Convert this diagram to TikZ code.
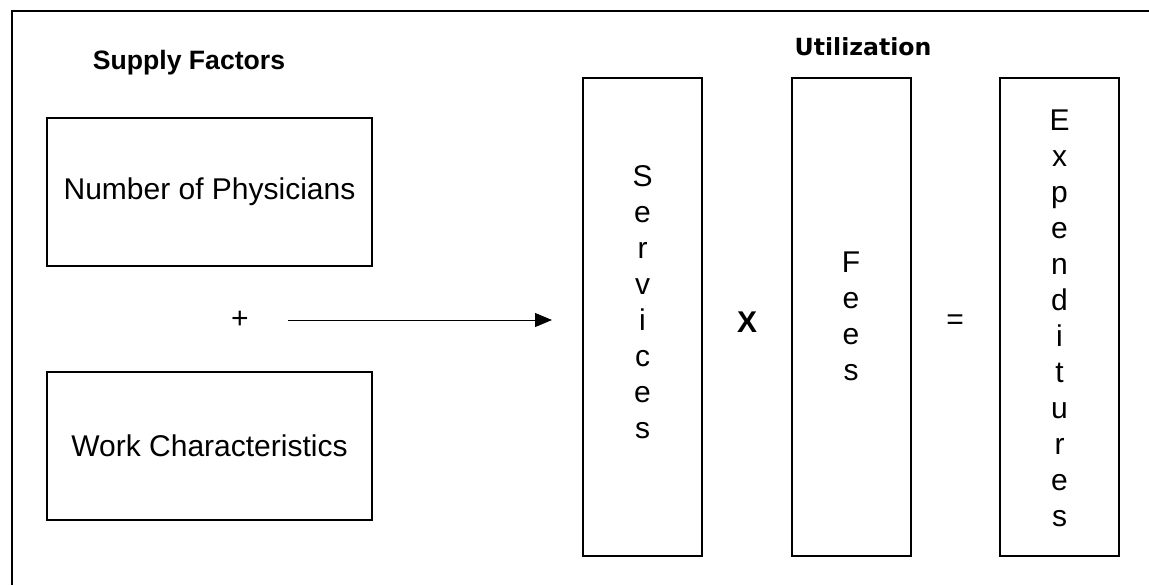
\documentclass[tikz,border=0pt]{standalone}
\usepackage{fontspec}
\setmainfont{Liberation Sans}
\newfontfamily\headfont{DejaVu Sans}
\usetikzlibrary{arrows.meta,positioning}

\begin{document}
\begin{tikzpicture}[x=0.5pt,y=-0.5pt,
        box/.style = {draw, line width=1pt, minimum width=162.5pt, minimum height=74pt, font=\fontsize{15}{18}\selectfont},
        tallbox/.style = {draw, line width=1pt, minimum width=59.5pt, minimum height=239pt},
        letters/.style = {align=center, inner sep=0pt, font=\fontsize{15}{18}\selectfont},
        sign/.style = {inner sep=0pt, font=\fontsize{15}{18}\selectfont}]
                \useasboundingbox (0,0) rectangle (1149,585);
                \draw[line width=1pt] (12,585) -- (12,11) -- (1149,11);
                \node[font=\bfseries\fontsize{13.3}{16}\selectfont] (supply) at (189,63) {Supply Factors};
                \node[font=\headfont\bfseries\fontsize{11.8}{14}\selectfont] (util) at (863,47) {Utilization};
                \node[box] (phys) at (209.5,192) {Number of Physicians};
                \node[box] (work) at (209.5,445.5) {Work Characteristics};
                \node[sign] (plus) at (240,320) {+};
                \node[tallbox] (services) at (642.5,317) {};
                \node[tallbox] (fees) at (851,317) {};
                \node[tallbox] (expend) at (1059.5,317) {};
                \node[letters] (servtext) at (642.5,302.5) {S\\e\\r\\v\\i\\c\\e\\s};
                \node[letters] (feestext) at (851,316) {F\\e\\e\\s};
                \node[letters] (exptext) at (1059.5,318.5) {E\\x\\p\\e\\n\\d\\i\\t\\u\\r\\e\\s};
                \node[sign, font=\bfseries\fontsize{15}{18}\selectfont] (times) at (747,322) {X};
                \node[sign] (equals) at (955,322) {=};
                \coordinate (arrowstart) at (288,320);
                \coordinate[left=15pt of services.west|-arrowstart] (arrowend);
                \draw[-{Triangle[length=8.5pt,width=7pt]}, line width=0.5pt] (arrowstart) -- (arrowend);
            \end{tikzpicture}
\end{document}
